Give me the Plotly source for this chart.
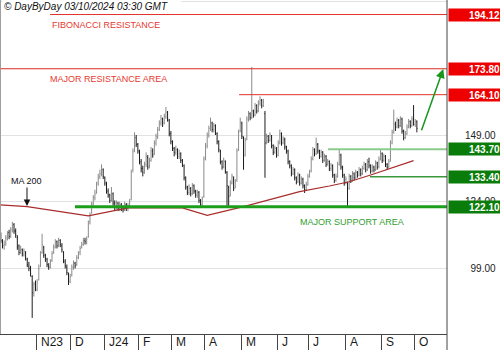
import plotly.graph_objects as go

# ---- daily bars: trading-day index 0 = 2 Oct 2023 ... 252 = 2 Oct 2024 ----
opens = [
 111.0,109.0,107.5,108.5,110.0,112.5,111.0,113.0,115.5,113.0,
 110.5,107.5,105.0,106.0,104.0,105.0,102.5,100.0,99.5,96.0,
 89.5,93.5,91.0,95.0,100.0,105.0,107.0,104.0,102.5,100.0,
 99.5,102.0,105.0,107.0,109.0,107.5,109.5,107.5,105.0,101.5,
 99.5,97.0,94.0,96.5,99.5,101.0,100.5,103.0,105.0,107.0,
 108.0,109.5,108.5,111.0,116.5,120.0,123.5,125.5,127.5,131.0,
 133.5,134.5,136.0,133.0,130.5,128.0,126.5,124.5,127.0,123.5,
 122.0,123.5,121.5,123.0,122.0,121.0,123.0,121.5,122.5,125.0,
 136.0,143.5,148.0,145.5,142.5,139.0,136.5,135.0,138.0,140.5,
 137.5,139.5,143.0,142.0,146.0,148.5,151.0,153.5,155.0,153.5,
 156.0,157.5,154.5,149.5,146.5,144.0,142.5,143.5,141.0,142.0,
 139.5,137.5,133.0,129.5,127.5,129.0,127.0,130.0,128.0,126.5,
 127.5,124.5,123.0,126.0,140.5,145.0,149.0,151.5,153.5,151.0,
 152.5,149.5,146.5,143.0,139.0,137.0,139.0,135.0,129.5,126.5,
 131.0,133.0,129.5,132.0,143.5,150.5,153.5,148.0,141.5,147.5,
 155.0,157.0,155.5,158.0,156.5,160.0,158.0,161.0,162.0,160.0,
 157.0,146.5,148.5,147.0,148.5,145.0,142.5,144.0,141.5,146.0,
 149.5,146.0,147.5,144.5,143.0,139.0,137.5,134.5,136.0,133.0,
 131.5,134.0,131.0,132.5,130.0,128.5,130.5,133.5,135.5,140.0,
 143.5,142.0,145.5,143.0,141.0,142.5,139.5,141.0,138.0,139.0,
 136.5,137.5,134.0,132.0,133.5,138.0,141.5,137.0,134.0,131.0,
 131.0,129.0,133.5,132.0,134.5,133.0,135.0,134.0,136.0,134.5,
 136.5,138.0,136.0,139.0,137.5,135.5,137.0,136.0,138.5,137.0,
 140.0,142.0,139.5,141.0,138.0,137.0,139.5,146.0,150.0,153.0,
 152.0,154.5,152.5,155.0,150.5,148.0,149.5,152.0,154.0,152.5,
 155.0,153.0,154.0]
highs = [
 112.5,110.0,109.5,111.5,113.0,113.5,114.5,116.5,116.0,114.0,
 111.5,108.0,107.5,106.5,106.5,105.5,103.0,101.5,100.0,96.5,
 94.0,94.5,95.0,100.5,105.5,112.0,107.5,104.5,103.0,101.0,
 102.5,105.5,108.0,110.0,109.5,110.5,110.0,108.5,105.5,102.5,
 100.5,97.5,97.0,100.5,102.0,101.5,104.0,105.5,107.5,109.0,
 110.5,110.5,111.0,117.0,120.0,124.0,126.5,128.5,131.5,134.5,
 136.0,138.0,136.5,133.5,131.5,129.0,127.0,129.5,127.5,124.5,
 124.5,124.0,124.0,123.5,122.5,124.0,123.5,123.5,125.0,136.0,
 144.0,150.0,149.0,146.0,143.5,140.0,137.5,139.0,142.5,141.5,
 140.5,144.5,144.0,147.0,149.5,152.0,154.5,156.5,155.5,157.0,
 159.5,158.0,155.0,150.5,147.0,144.5,145.0,144.0,143.5,142.5,
 140.0,138.0,133.5,130.0,130.5,129.5,131.0,130.5,128.5,128.5,
 128.0,125.0,126.0,141.0,146.0,150.0,152.5,155.5,154.0,153.5,
 153.0,150.0,147.0,143.5,139.5,140.5,139.5,135.5,130.0,132.0,
 134.5,133.5,132.5,144.0,151.0,155.5,154.0,148.5,148.0,156.0,
 158.0,157.5,174.5,158.5,161.0,160.5,162.0,163.5,162.5,162.5,
 158.0,149.5,149.0,150.0,149.0,145.5,145.0,144.5,147.0,151.0,
 150.0,148.5,148.0,145.0,143.5,139.5,138.0,137.0,136.5,133.5,
 135.0,134.5,133.5,133.0,130.5,131.5,134.5,136.0,141.0,144.5,
 144.0,148.0,146.0,143.5,143.5,143.0,142.0,141.5,140.0,139.5,
 138.5,138.0,134.5,134.5,139.0,143.8,142.0,137.5,134.5,133.5,
 131.5,134.5,134.0,135.5,135.0,136.0,135.5,137.0,136.5,137.5,
 139.0,138.5,140.0,140.5,138.0,138.0,137.5,139.5,139.0,141.0,
 143.5,142.5,142.0,141.5,138.5,140.0,147.0,151.0,158.5,154.0,
 155.5,155.0,156.0,155.5,151.0,150.5,153.0,155.0,154.5,156.0,
 160.2,155.0,154.5]
lows = [
 108.5,106.5,106.0,107.5,109.5,110.0,110.5,112.5,112.0,110.5,
 106.0,104.0,104.5,103.5,103.5,102.0,99.5,98.0,96.0,80.5,
 88.5,90.5,90.5,94.5,99.5,104.5,103.0,101.5,99.5,98.5,
 99.0,101.5,104.5,106.5,106.5,107.0,107.0,105.0,101.0,99.0,
 96.5,92.8,93.5,96.0,98.5,99.0,100.0,102.5,104.0,106.5,
 107.5,108.0,108.0,110.5,115.5,119.5,122.5,124.5,127.0,130.0,
 132.5,133.5,132.5,130.0,127.0,125.5,123.5,124.0,122.5,120.5,
 121.0,120.5,120.5,120.5,120.0,120.5,120.5,120.5,122.0,124.5,
 135.0,142.5,144.5,142.0,138.0,135.0,133.5,134.5,137.0,136.0,
 136.5,139.0,140.5,141.5,145.0,147.5,150.5,152.5,152.0,153.0,
 155.0,154.0,148.5,145.5,143.0,141.0,141.5,140.0,140.0,138.5,
 137.0,132.0,128.5,126.5,126.5,126.0,126.5,127.0,125.5,125.5,
 123.5,122.0,122.5,125.5,139.5,144.0,148.0,150.5,150.0,150.0,
 149.0,145.5,142.5,138.0,136.0,136.5,134.5,122.0,122.5,126.0,
 130.5,128.0,129.0,131.5,143.0,150.0,147.5,136.0,141.0,147.0,
 154.0,154.5,155.0,155.5,156.0,157.0,157.5,160.0,159.0,159.5,
 133.0,145.5,146.0,146.5,144.0,141.5,142.0,140.5,141.0,145.5,
 145.0,145.5,143.5,142.0,138.0,136.5,133.5,134.0,132.0,130.5,
 131.0,130.0,130.5,129.0,127.3,128.0,130.0,133.0,135.0,139.5,
 141.0,141.5,142.0,140.0,140.5,138.5,139.0,137.0,137.5,135.5,
 135.5,133.0,131.0,131.5,133.0,137.5,136.0,133.0,130.0,130.5,
 122.0,128.5,131.0,131.5,132.0,132.5,133.0,133.5,133.5,134.0,
 136.0,135.0,135.5,136.5,134.5,135.0,135.0,135.5,136.0,136.5,
 139.5,138.5,139.0,137.0,136.0,136.5,139.0,145.5,149.5,150.5,
 151.5,151.5,152.0,149.5,147.0,147.5,149.0,151.5,151.5,152.0,
 152.5,152.0,150.0]
closes = [
 109.5,107.5,108.0,110.5,112.0,111.0,113.5,115.0,113.0,111.5,
 107.0,105.0,106.0,104.5,105.5,103.0,100.5,99.0,97.0,90.0,
 93.0,91.5,94.0,99.0,104.0,108.0,104.0,102.5,100.5,99.5,
 101.5,104.5,107.0,108.5,107.5,109.5,108.0,106.0,102.0,100.0,
 97.5,94.5,96.0,99.5,101.0,100.0,103.0,104.5,106.5,108.0,
 109.5,109.0,110.0,116.0,119.0,123.0,125.5,127.0,130.5,133.0,
 134.5,136.0,133.5,131.0,128.0,126.5,124.5,127.0,123.5,122.0,
 123.5,121.5,123.0,122.0,121.0,123.0,121.5,122.5,124.0,135.0,
 143.0,148.0,145.5,143.0,139.0,136.5,135.0,138.0,141.0,137.0,
 139.5,143.0,141.5,146.0,148.5,151.0,153.5,155.0,153.5,156.0,
 157.5,155.0,149.5,146.5,144.0,142.5,143.5,141.0,142.0,139.5,
 138.0,133.0,129.5,127.5,129.0,127.0,130.0,128.0,126.5,127.5,
 124.5,123.0,125.0,140.0,145.0,149.0,151.5,153.5,151.0,152.5,
 150.0,146.5,143.5,139.0,137.0,139.5,135.5,130.0,126.0,131.0,
 133.5,129.0,131.5,143.0,150.0,154.0,148.5,141.0,147.0,155.0,
 157.0,155.5,158.0,156.5,160.0,158.0,161.0,162.0,160.0,161.5,
 146.0,148.5,147.0,149.0,145.0,142.5,144.0,141.5,146.0,149.5,
 146.0,147.5,144.5,143.0,139.0,137.5,134.5,136.0,133.0,131.5,
 134.0,131.0,132.5,130.0,128.5,130.5,133.5,135.0,140.0,143.5,
 142.0,145.5,143.0,141.0,142.5,139.5,141.0,138.0,139.0,136.5,
 137.5,134.0,132.0,133.5,138.0,141.5,137.0,134.0,131.0,132.5,
 129.0,133.5,132.0,134.5,133.0,135.0,134.0,136.0,134.5,136.5,
 138.0,136.0,139.0,137.5,135.5,137.0,136.0,138.5,137.0,140.0,
 142.0,139.5,141.0,138.0,137.0,139.0,146.0,150.0,153.0,152.0,
 154.5,152.5,155.0,150.5,148.0,149.5,152.0,154.0,152.5,155.0,
 153.0,154.0,151.5]
days = list(range(len(closes)))

# month tick labels and the index of each month's first bar
month_labels = ["N23", "D", "J24", "F", "M", "A", "M", "J", "J", "A", "S", "O"]
month_first_bar = [22, 43, 63, 84, 104, 124, 146, 168, 187, 209, 231, 251]

# 200-day moving average (vertices)
ma200_x = [-0.5, 16, 53, 77, 110, 125, 147, 181, 199, 211, 224, 236, 250]
ma200_y = [122.8, 122.2, 118.7, 121.7, 121.7, 118.9, 122.2, 127.8, 129.9, 131.5, 134.0, 136.5, 139.4]

# key levels
level_values = [194.12, 173.80, 164.10, 143.70, 133.40, 122.10]
level_from_bar = [29.8, -0.5, 144.3, 198.2, 223.6, 44.9]
level_kind = ["res", "res", "res", "sup", "sup", "sup"]

# price axis grid values; the 174 label sits fully under the 173.80 box in the chart
price_ticks = [99, 124, 149, 174, 199]
price_tick_text = ["\u200799.00", "124.00", "149.00", "", "199.00"]

# ---------------- figure ----------------
X0, X1 = -0.5, 270.25
Y0, Y1 = 74.47, 199.56
FONT = "Liberation Sans, Arial, sans-serif"
RED_LINE = "#e2322b"
RED_BOX = "#ee0000"
GREEN_BOX = "#0a7c0a"
level_line_style = {
    143.70: ("#8ccb8c", 2),
    133.40: ("#3a983a", 1.5),
    122.10: ("#1c9e1c", 3),
}

fig = go.Figure()
fig.add_trace(go.Ohlc(
    x=days, open=opens, high=highs, low=lows, close=closes,
    increasing=dict(line=dict(color="#8a8a8a", width=1)),
    decreasing=dict(line=dict(color="#1c1c1c", width=1)),
    tickwidth=0.35, hoverinfo="skip", showlegend=False))
fig.add_trace(go.Scatter(
    x=ma200_x, y=ma200_y, mode="lines",
    line=dict(color="#a82c2c", width=1.2), hoverinfo="skip", showlegend=False))

for v, start, kind in zip(level_values, level_from_bar, level_kind):
    if kind == "res":
        col, w = RED_LINE, 1
    else:
        col, w = level_line_style[v]
    fig.add_shape(type="line", xref="x", yref="y", x0=start, x1=X1, y0=v, y1=v,
                  line=dict(color=col, width=w), layer="above")
    fig.add_annotation(
        xref="paper", x=1, xanchor="left", xshift=1, yref="y", y=v, yanchor="middle",
        text="<b>%.2f</b>" % v, showarrow=False,
        bgcolor=RED_BOX if kind == "res" else GREEN_BOX,
        font=dict(color="white", size=10, family=FONT),
        width=50, height=10, align="right", borderpad=1)

# month labels
for lab, b in zip(month_labels, month_first_bar):
    fig.add_annotation(xref="x", x=b - 0.5, xanchor="left", xshift=2.5,
                       yref="paper", y=0, yanchor="middle", yshift=-8,
                       text=lab, showarrow=False,
                       font=dict(size=12, color="#1a1a1a", family=FONT))

# text labels
fig.add_annotation(xref="x", x=29.8, yref="y", y=190.1, xanchor="left", yanchor="middle",
                   text="FIBONACCI RESISTANCE", showarrow=False,
                   font=dict(size=9, color="#e53a2f", family=FONT))
fig.add_annotation(xref="x", x=28.4, yref="y", y=170.0, xanchor="left", yanchor="middle",
                   text="MAJOR RESISTANCE AREA", showarrow=False,
                   font=dict(size=9, color="#e53a2f", family=FONT))
fig.add_annotation(xref="x", x=179.8, yref="y", y=116.5, xanchor="left", yanchor="middle",
                   text="MAJOR SUPPORT AREA", showarrow=False,
                   font=dict(size=9, color="#2f9e2f", family=FONT))
fig.add_annotation(xref="x", x=15.85, yref="y", y=122.4, text="MA 200",
                   showarrow=True, ax=0, ay=-25, arrowhead=2, arrowsize=1.3,
                   arrowwidth=1, arrowcolor="#111",
                   font=dict(size=9, color="#111", family=FONT))
# projected move arrow
fig.add_annotation(xref="x", yref="y", x=268.0, y=173.7, axref="x", ayref="y",
                   ax=254.5, ay=150.2, text="", showarrow=True, arrowhead=2,
                   arrowsize=1.2, arrowwidth=1.5, arrowcolor="#18961c")
# header
fig.add_annotation(xref="paper", x=0, xanchor="left", xshift=2, yref="paper", y=1,
                   yanchor="top", yshift=1, text="<i>© DayByDay 03/10/2024 03:30 GMT</i>",
                   showarrow=False, bgcolor="white", width=176, align="left", borderpad=1,
                   font=dict(size=10, color="#111", family=FONT))

# frame lines
fig.add_shape(type="line", xref="paper", yref="paper", x0=0.001, x1=0.001, y0=0, y1=1,
              line=dict(color="#9a9a9a", width=1))
fig.add_shape(type="line", xref="paper", yref="paper", x0=1, x1=1, y0=-0.06, y1=1,
              line=dict(color="#444", width=1))

fig.update_layout(
    width=500, height=350,
    margin=dict(l=0, r=53, t=0, b=16, pad=0),
    paper_bgcolor="white", plot_bgcolor="white",
    font=dict(family=FONT),
    showlegend=False,
    xaxis=dict(range=[X0, X1], showgrid=False, zeroline=False,
               showline=True, linecolor="#444", linewidth=1,
               ticks="outside", ticklen=16, tickcolor="#444", tickwidth=1,
               tickmode="array", tickvals=[b - 0.5 for b in month_first_bar],
               showticklabels=False, rangeslider=dict(visible=False)),
    yaxis=dict(range=[Y0, Y1], side="right", showgrid=True, gridcolor="#e2e2e2",
               gridwidth=1, zeroline=False, showline=False,
               tickmode="array", tickvals=price_ticks, ticktext=price_tick_text,
               ticks="", ticklabelstandoff=17,
               tickfont=dict(size=10, color="#222", family=FONT)),
)

fig.write_html("out.html")
